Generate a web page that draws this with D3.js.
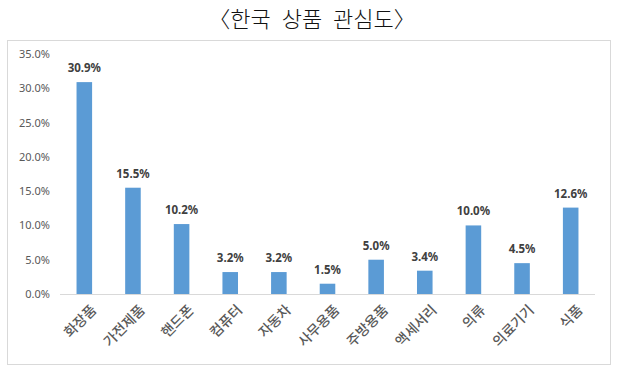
<!DOCTYPE html>
<html>
<head>
<meta charset="utf-8">
<script src="https://d3js.org/d3.v7.min.js"></script>
<style>
  body { margin: 0; background: #fff; }
  svg { display: block; }
</style>
</head>
<body>
<div id="chart"></div>
<script>
var categories = ["화장품", "가전제품", "핸드폰", "컴퓨터", "자동차", "사무용품", "주방용품", "액세서리", "의류", "의료기기", "식품"];
var values = [30.9, 15.5, 10.2, 3.2, 3.2, 1.5, 5.0, 3.4, 10.0, 4.5, 12.6];
var yTicks = [0, 5, 10, 15, 20, 25, 30, 35];
var title = "〈한국 상품 관심도〉";

var width = 620, height = 370;
var margin = { top: 54, right: 15, bottom: 76, left: 60 };
var innerW = width - margin.left - margin.right;
var innerH = 294 - margin.top;

var svg = d3.select("#chart").append("svg")
  .attr("width", width)
  .attr("height", height)
  .style("font-family", "'Noto Sans CJK KR', 'Noto Sans', sans-serif");

// title
svg.append("text")
  .attr("x", 312)
  .attr("y", 27)
  .attr("text-anchor", "middle")
  .style("font-size", "22px")
  .style("font-weight", "300")
  .style("word-spacing", "6px")
  .style("fill", "#111")
  .text(title);

// chart frame
svg.append("rect")
  .attr("x", 7.5).attr("y", 40.5)
  .attr("width", 603).attr("height", 324)
  .attr("fill", "none")
  .attr("stroke", "#d9d9d9");

var g = svg.append("g")
  .attr("transform", "translate(" + margin.left + "," + margin.top + ")");

var x = d3.scaleBand()
  .domain(categories)
  .range([0, innerW - 10])
  .paddingInner(0.68)
  .paddingOuter(0.34);

var y = d3.scaleLinear()
  .domain([0, 35])
  .range([innerH, 0]);

// y axis
var yAxis = g.append("g")
  .call(d3.axisLeft(y).tickValues(yTicks).tickSize(0).tickPadding(10)
    .tickFormat(function (d) { return d.toFixed(1) + "%"; }));
yAxis.select(".domain").remove();
yAxis.selectAll("text")
  .style("font-family", "'Noto Sans', 'DejaVu Sans', sans-serif")
  .style("font-size", "11px")
  .style("fill", "#595959");

// baseline
g.append("line")
  .attr("x1", 0).attr("x2", innerW - 10)
  .attr("y1", innerH + 0.5).attr("y2", innerH + 0.5)
  .attr("stroke", "#d9d9d9");

// bars
g.selectAll(".bar")
  .data(values)
  .enter().append("rect")
  .attr("class", "bar")
  .attr("x", function (d, i) { return x(categories[i]); })
  .attr("y", function (d) { return y(d); })
  .attr("width", x.bandwidth())
  .attr("height", function (d) { return innerH - y(d); })
  .attr("fill", "#5b9bd5");

// value labels
g.selectAll(".val")
  .data(values)
  .enter().append("text")
  .attr("class", "val")
  .attr("x", function (d, i) { return x(categories[i]) + x.bandwidth() / 2; })
  .attr("y", function (d) { return y(d) - 10; })
  .attr("text-anchor", "middle")
  .style("font-family", "'Noto Sans', 'DejaVu Sans', sans-serif")
  .style("font-size", "11.5px")
  .style("font-weight", "bold")
  .style("fill", "#404040")
  .text(function (d) { return d.toFixed(1) + "%"; });

// x labels, rotated
g.selectAll(".cat")
  .data(categories)
  .enter().append("text")
  .attr("class", "cat")
  .attr("transform", function (d) {
    var cx = x(d) + x.bandwidth() / 2 + 6;
    return "translate(" + cx + "," + (innerH + 10) + ") rotate(-45)";
  })
  .attr("text-anchor", "end")
  .attr("dy", "0.7em")
  .style("font-size", "14px")
  .style("font-weight", "500")
  .style("fill", "#595959")
  .text(function (d) { return d; });
</script>
</body>
</html>
